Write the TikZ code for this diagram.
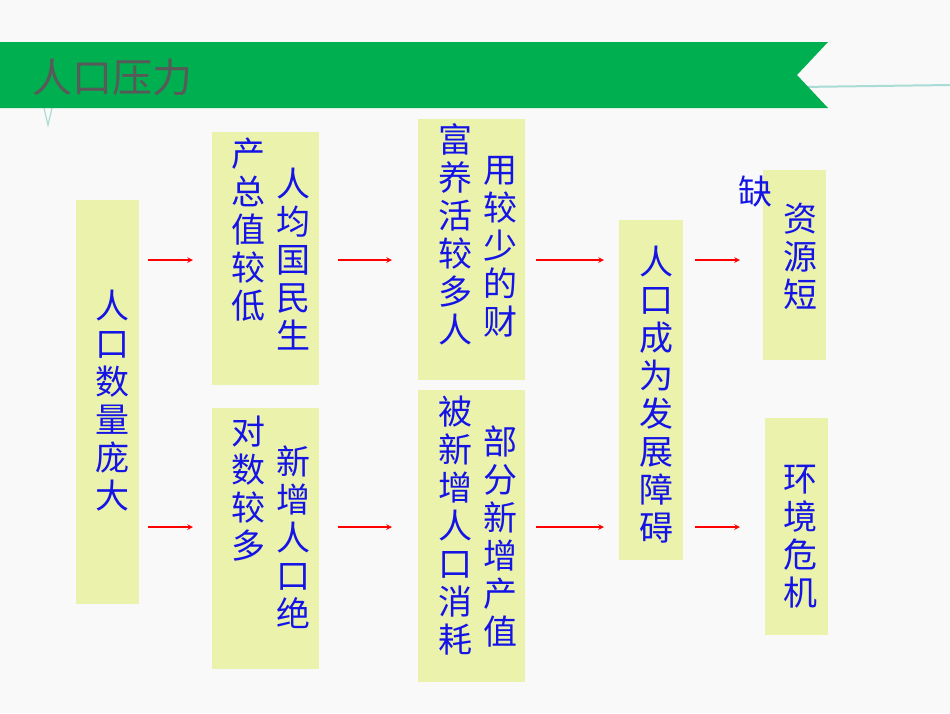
\documentclass[tikz,border=0pt]{standalone}
\usepackage{fontspec}
\newfontfamily\cjk{Noto Sans CJK SC}
\begin{document}
\begin{tikzpicture}[x=1pt,y=-1pt,
  box/.style={fill=boxc,draw=none},
  vt/.style={font=\cjk\fontsize{34}{38}\selectfont,text=txtc,align=center,inner sep=0pt,anchor=north},
  arr/.style={red,line width=1.5pt,-stealth}]
\definecolor{boxc}{HTML}{EBF2AC}
\definecolor{txtc}{HTML}{1414E6}
\definecolor{band}{HTML}{00AF50}
\definecolor{teal}{HTML}{A8DCD4}
\fill[fill=white!95!gray] (0,0) rectangle (950,713);
\useasboundingbox (0,0) rectangle (950,713);
% header
\draw[teal,line width=2pt] (800,87) -- (950,85);
\draw[teal,line width=1.2pt] (44,108) -- (48,125) -- (52,108);
\fill[band] (0,42) -- (828,42) -- (797,75) -- (828,108) -- (0,108) -- cycle;
\node[font=\cjk\fontsize{40}{44}\selectfont,text=gray!70!black,anchor=west,inner sep=0pt] (title) at (32,77) {人口压力};
% boxes
\fill[box] (76,200) rectangle (139,604);
\fill[box] (212,132) rectangle (319,385);
\fill[box] (212,408) rectangle (319,669);
\fill[box] (418,119) rectangle (525,380);
\fill[box] (418,390) rectangle (525,682);
\fill[box] (619,220) rectangle (683,560);
\fill[box] (763,170) rectangle (826,360);
\fill[box] (765,418) rectangle (828,635);
% texts
\node[vt] (t1) at (112,290) {人\\口\\数\\量\\庞\\大};
\node[vt] (t2a) at (293,168) {人\\均\\国\\民\\生};
\node[vt] (t2b) at (248,138) {产\\总\\值\\较\\低};
\node[vt] (t3a) at (293,446) {新\\增\\人\\口\\绝};
\node[vt] (t3b) at (248,416) {对\\数\\较\\多};
\node[vt] (t4a) at (500,156) {用\\较\\少\\的\\财};
\node[vt] (t4b) at (455,123) {富\\养\\活\\较\\多\\人};
\node[vt] (t5a) at (500,426) {部\\分\\新\\增\\产\\值};
\node[vt] (t5b) at (455,396) {被\\新\\增\\人\\口\\消\\耗};
\node[vt] (t6) at (656,246) {人\\口\\成\\为\\发\\展\\障\\碍};
\node[vt] (t7) at (800,203) {资\\源\\短};
\node[vt] (t7q) at (755,176) {缺};
\node[vt] (t8) at (800,465) {环\\境\\危\\机};
% arrows
\foreach \a/\b in {148/193,338/392,536/604,695/740}{
  \coordinate (s1) at (\a,260); \coordinate (e1) at (\b,260);
  \coordinate (s2) at (\a,527); \coordinate (e2) at (\b,527);
  \draw[arr] (s1) -- (e1);
  \draw[arr] (s2) -- (e2);
}
\end{tikzpicture}
\end{document}
